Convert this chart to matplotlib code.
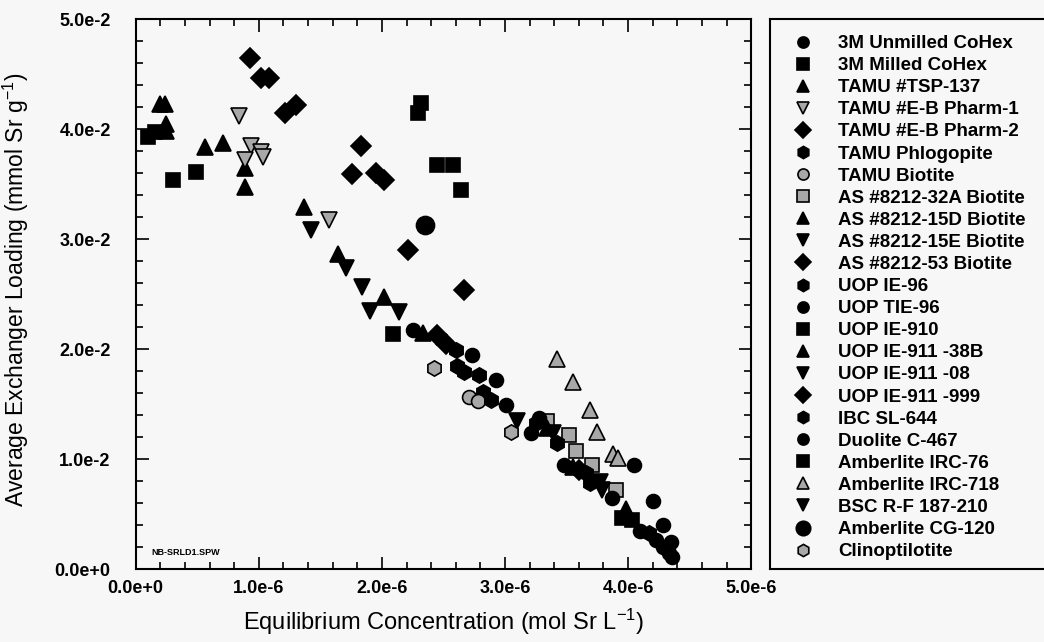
import numpy as np
import matplotlib.pyplot as plt
from matplotlib.ticker import MultipleLocator, FuncFormatter

plt.rcParams['font.family'] = ['Liberation Sans', 'DejaVu Sans']
plt.rcParams['mathtext.fontset'] = 'custom'
plt.rcParams['mathtext.rm'] = 'Liberation Sans'
plt.rcParams['mathtext.it'] = 'Liberation Sans'

# x in 1e-6 mol/L, y in 1e-3 mmol/g
names = ['3M Unmilled CoHex', '3M Milled CoHex', 'TAMU #TSP-137', 'TAMU #E-B Pharm-1',
         'TAMU #E-B Pharm-2', 'TAMU Phlogopite', 'TAMU Biotite', 'AS #8212-32A Biotite',
         'AS #8212-15D Biotite', 'AS #8212-15E Biotite', 'AS #8212-53 Biotite', 'UOP IE-96',
         'UOP TIE-96', 'UOP IE-910', 'UOP IE-911 -38B', 'UOP IE-911 -08', 'UOP IE-911 -999',
         'IBC SL-644', 'Duolite C-467', 'Amberlite IRC-76', 'Amberlite IRC-718',
         'BSC R-F 187-210', 'Amberlite CG-120', 'Clinoptilotite']

xs = [
    [2.25, 2.73, 2.93, 3.01, 3.21, 4.36, 4.33],
    [0.10, 0.16, 0.30, 0.49],
    [0.20, 0.24, 0.25, 0.25, 0.56, 0.71, 0.89, 0.89],
    [0.84, 0.94, 1.02, 1.03, 0.89, 1.57],
    [0.93, 1.02, 1.08, 1.21, 1.30],
    [2.60, 2.61, 2.67, 2.82],
    [2.71, 2.78],
    [3.34, 3.52, 3.58, 3.71, 3.90],
    [1.37, 1.64, 2.02, 2.33],
    [1.42, 1.71, 1.84, 1.90, 2.14],
    [1.83, 1.76, 1.95, 2.02, 2.21, 2.67],
    [3.25, 3.42, 3.69],
    [3.28, 3.48, 3.87, 4.10],
    [2.29, 2.32, 2.45, 2.58, 2.64],
    [3.34, 3.55, 3.98],
    [3.10, 3.39],
    [2.45, 2.52, 3.60],
    [2.79, 2.89, 3.66, 4.17],
    [4.05, 4.20, 4.28, 4.35, 4.23, 4.28],
    [2.09, 3.95, 4.03],
    [3.42, 3.55, 3.69, 3.75, 3.88, 3.92],
    [3.77, 3.79],
    [2.35],
    [2.42, 3.05],
]
ys = [
    [21.7, 19.5, 17.2, 14.9, 12.4, 1.1, 1.45],
    [39.3, 39.7, 35.4, 36.1],
    [42.3, 42.3, 40.5, 39.8, 38.4, 38.7, 34.7, 36.5],
    [41.2, 38.5, 37.9, 37.5, 37.2, 31.7],
    [46.5, 44.6, 44.6, 41.5, 42.2],
    [19.9, 18.5, 17.9, 16.1],
    [15.6, 15.3],
    [13.5, 12.2, 10.7, 9.5, 7.2],
    [32.9, 28.6, 24.7, 21.5],
    [30.8, 27.4, 25.6, 23.5, 23.4],
    [38.5, 35.9, 36.0, 35.4, 29.0, 25.4],
    [13.3, 11.5, 7.8],
    [13.7, 9.5, 6.5, 3.5],
    [41.5, 42.4, 36.7, 36.7, 34.5],
    [12.8, 9.3, 5.5],
    [13.5, 12.4],
    [21.3, 20.5, 9.0],
    [17.6, 15.4, 8.7, 3.3],
    [9.5, 6.2, 4.0, 2.5, 2.6, 2.0],
    [21.4, 4.6, 4.5],
    [19.1, 17.0, 14.5, 12.5, 10.5, 10.1],
    [7.9, 7.2],
    [31.3],
    [18.3, 12.5],
]

markers = ['o', 's', '^', 'v', 'D', 'h', 'o', 's', '^', 'v', 'D', 'h',
           'o', 's', '^', 'v', 'D', 'h', 'o', 's', '^', 'v', 'o', 'h']
gray = {3, 6, 7, 20, 23}
sizes = {'o': 10, 's': 10, '^': 11, 'v': 11, 'D': 10.5, 'h': 11}

fig = plt.figure(figsize=(10.44, 6.42), dpi=100, facecolor='#f7f7f7')
ax = fig.add_axes([0.130, 0.1137, 0.5895, 0.8567], facecolor='#f7f7f7')

handles = []
for i, name in enumerate(names):
    m = markers[i]
    ms = sizes[m] if i != 22 else 13
    fc = '#a8a8a8' if i in gray else 'black'
    h, = ax.plot(np.array(xs[i]) * 1e-6, np.array(ys[i]) * 1e-3, linestyle='none',
                 marker=m, ms=ms, mfc=fc, mec='black', mew=1.2, label=name)
    handles.append(h)

ax.set_xlim(0, 5e-6)
ax.set_ylim(0, 5e-2)
ax.xaxis.set_major_locator(MultipleLocator(1e-6))
ax.xaxis.set_minor_locator(MultipleLocator(0.2e-6))
ax.yaxis.set_major_locator(MultipleLocator(1e-2))
ax.yaxis.set_minor_locator(MultipleLocator(0.2e-2))


def sci(v, pos):
    if abs(v) < 1e-12:
        return '0.0e+0'
    e = int(np.floor(np.log10(abs(v)) + 1e-9))
    return '%.1fe%d' % (v / 10 ** e, e)


ax.xaxis.set_major_formatter(FuncFormatter(sci))
ax.yaxis.set_major_formatter(FuncFormatter(sci))
ax.tick_params(which='both', direction='in', top=True, right=True, width=1.2)
ax.tick_params(which='major', length=9, labelsize=13)
ax.tick_params(axis='x', which='major', pad=8)
ax.tick_params(axis='y', which='major', pad=18)
ax.tick_params(which='minor', length=5)
for lab in ax.get_xticklabels() + ax.get_yticklabels():
    lab.set_fontweight('bold')
for sp in ax.spines.values():
    sp.set_linewidth(1.5)

ax.set_xlabel(r'Equilibrium Concentration (mol Sr L$^{-1}$)', fontsize=17, va='center')
ax.set_ylabel(r'Average Exchanger Loading (mmol Sr g$^{-1}$)', fontsize=16.5, va='center')
ax.xaxis.set_label_coords(0.5, -0.096)
ax.yaxis.set_label_coords(-0.195, 0.507)
ax.text(0.025, 0.025, 'NB-SRLD1.SPW', transform=ax.transAxes, fontsize=6.5,
        fontweight='bold')

# legend box
lax = fig.add_axes([770 / 1044, 0.1137, 0.30, 0.8567], facecolor='#f7f7f7')
lax.set_xticks([])
lax.set_yticks([])
for sp in lax.spines.values():
    sp.set_linewidth(1.5)
leg = lax.legend(handles=handles, loc='upper left', bbox_to_anchor=(0.0, 1.0),
                 frameon=False, fontsize=13.5, labelspacing=0.265, handletextpad=1.0,
                 borderaxespad=0.45, markerscale=0.8, handlelength=1.8)
for t in leg.get_texts():
    t.set_fontweight('bold')

fig.savefig('out.png', dpi=100, facecolor=fig.get_facecolor())
